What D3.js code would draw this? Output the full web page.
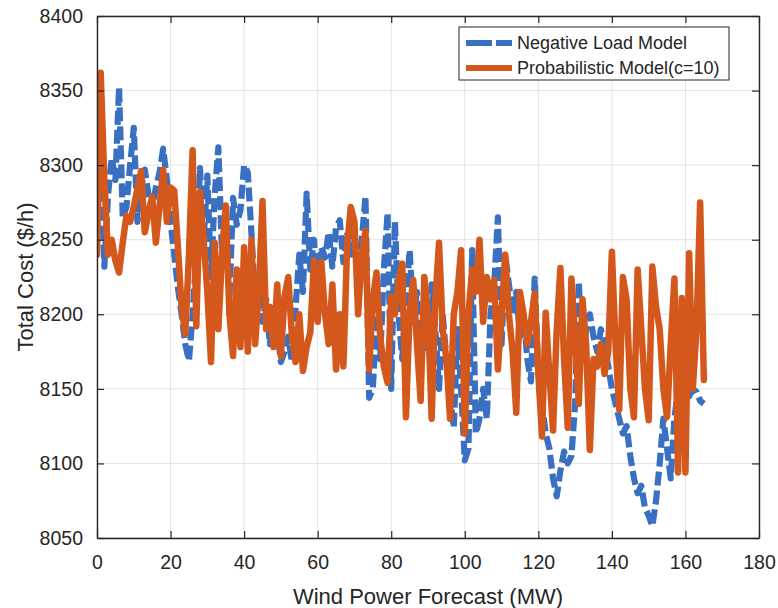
<!DOCTYPE html>
<html>
<head>
<meta charset="utf-8">
<script src="https://cdn.jsdelivr.net/npm/d3@7"></script>
<style>
    body { margin: 0; background: #fff; }
    #chart { display: block; }
    .axis text { font-family: "Liberation Sans", Arial, sans-serif; fill: #262626; }
    .label { font-family: "Liberation Sans", Arial, sans-serif; fill: #262626; }
</style>
</head>
<body>
<svg id="chart"></svg>
<script>
// wind power forecast (MW), one point per MW
var windForecast = [
    0, 1, 2, 3, 4, 5, 6, 7, 8, 9, 10, 11, 12, 13, 14, 15, 16, 17, 18, 19,
    20, 21, 22, 23, 24, 25, 26, 27, 28, 29, 30, 31, 32, 33, 34, 35, 36, 37, 38, 39,
    40, 41, 42, 43, 44, 45, 46, 47, 48, 49, 50, 51, 52, 53, 54, 55, 56, 57, 58, 59,
    60, 61, 62, 63, 64, 65, 66, 67, 68, 69, 70, 71, 72, 73, 74, 75, 76, 77, 78, 79,
    80, 81, 82, 83, 84, 85, 86, 87, 88, 89, 90, 91, 92, 93, 94, 95, 96, 97, 98, 99,
    100, 101, 102, 103, 104, 105, 106, 107, 108, 109, 110, 111, 112, 113, 114, 115, 116, 117, 118, 119,
    120, 121, 122, 123, 124, 125, 126, 127, 128, 129, 130, 131, 132, 133, 134, 135, 136, 137, 138, 139,
    140, 141, 142, 143, 144, 145, 146, 147, 148, 149, 150, 151, 152, 153, 154, 155, 156, 157, 158, 159,
    160, 161, 162, 163, 164, 165
];

// total cost ($/h), negative load model
var negativeLoad = [
    8290, 8300, 8232, 8280, 8305, 8290, 8352, 8265, 8272, 8300,
    8325, 8262, 8285, 8297, 8280, 8270, 8285, 8295, 8311, 8290,
    8262, 8240, 8218, 8200, 8180, 8169, 8200, 8240, 8298, 8250,
    8293, 8225, 8280, 8312, 8240, 8268, 8210, 8278, 8260, 8270,
    8300, 8295, 8254, 8210, 8225, 8195, 8210, 8180, 8200, 8190,
    8168, 8175, 8185, 8168, 8205, 8240, 8215, 8281, 8230, 8250,
    8205, 8245, 8238, 8255, 8232, 8258, 8263, 8235, 8255, 8240,
    8258, 8210, 8250, 8279, 8144, 8150, 8200, 8170, 8230, 8268,
    8150, 8262, 8200, 8170, 8210, 8243, 8200, 8215, 8160, 8200,
    8175, 8220, 8190, 8150, 8200, 8170, 8145, 8124, 8190, 8150,
    8102, 8110, 8243, 8120, 8130, 8150, 8130, 8200, 8220, 8265,
    8180, 8240, 8220, 8200, 8215, 8185, 8200, 8170, 8155, 8224,
    8160, 8140, 8120, 8110, 8090, 8078, 8095, 8108, 8100, 8105,
    8140, 8222, 8170, 8190, 8200, 8185, 8175, 8190, 8180, 8165,
    8150, 8140, 8130, 8120, 8125, 8105, 8090, 8080, 8085, 8070,
    8065, 8058, 8075, 8100, 8130, 8110, 8090, 8130, 8150, 8170,
    8160, 8145, 8150, 8148, 8142, 8140
];

// total cost ($/h), probabilistic model c=10
var probabilistic = [
    8240, 8362, 8290, 8240, 8250, 8236, 8228, 8248, 8266, 8262,
    8272, 8284, 8296, 8255, 8268, 8279, 8248, 8272, 8297, 8262,
    8285, 8283, 8245, 8205, 8187, 8240, 8310, 8192, 8282, 8250,
    8215, 8168, 8248, 8190, 8240, 8273, 8200, 8172, 8230, 8178,
    8245, 8175, 8250, 8180, 8215, 8276, 8190, 8205, 8178, 8220,
    8172, 8212, 8225, 8185, 8168, 8200, 8162, 8178, 8188, 8236,
    8195, 8235, 8200, 8180, 8220, 8163, 8200, 8165, 8245, 8272,
    8262, 8200, 8240, 8256, 8163, 8210, 8228, 8185, 8165, 8154,
    8212, 8200, 8222, 8234, 8131, 8200, 8223, 8180, 8142, 8225,
    8200, 8130, 8210, 8248, 8190, 8170, 8130, 8200, 8215, 8243,
    8120, 8200, 8230, 8215, 8250, 8195, 8225, 8210, 8223, 8163,
    8200, 8240, 8200, 8175, 8134, 8215, 8200, 8180, 8195, 8214,
    8160, 8118, 8201, 8160, 8122, 8190, 8231, 8170, 8124, 8224,
    8185, 8140, 8210, 8180, 8109, 8170, 8165, 8180, 8160, 8175,
    8242, 8180, 8136, 8225, 8210, 8150, 8131, 8230, 8190, 8150,
    8129, 8232, 8205, 8190, 8150, 8131, 8180, 8224, 8094, 8211,
    8094, 8241, 8150, 8190, 8275, 8156
];

var xTicks = [0, 20, 40, 60, 80, 100, 120, 140, 160, 180];
var yTicks = [8050, 8100, 8150, 8200, 8250, 8300, 8350, 8400];

var seriesNames = ["Negative Load Model", "Probabilistic Model(c=10)"];
var seriesColors = ["#3a70c2", "#d4581c"];

var outerWidth = 778,
    outerHeight = 608,
    margin = { top: 16, right: 19, bottom: 70, left: 97 },
    width = outerWidth - margin.left - margin.right,
    height = outerHeight - margin.top - margin.bottom;

var x = d3.scaleLinear().domain([0, 180]).range([0, width]);
var y = d3.scaleLinear().domain([8050, 8400]).range([height, 0]);

var svg = d3
    .select("#chart")
    .attr("width", outerWidth)
    .attr("height", outerHeight);

var g = svg
    .append("g")
    .attr("transform", "translate(" + margin.left + "," + margin.top + ")");

g.append("defs")
    .append("clipPath")
    .attr("id", "plot-clip")
    .append("rect")
    .attr("width", width)
    .attr("height", height);

// grid
g.append("g")
    .attr("class", "grid")
    .selectAll("line.vx")
    .data(xTicks)
    .enter()
    .append("line")
    .attr("x1", function (d) { return x(d); })
    .attr("x2", function (d) { return x(d); })
    .attr("y1", 0)
    .attr("y2", height)
    .style("stroke", "#e3e3e3")
    .style("stroke-width", 1);

g.select(".grid")
    .selectAll("line.hy")
    .data(yTicks)
    .enter()
    .append("line")
    .attr("x1", 0)
    .attr("x2", width)
    .attr("y1", function (d) { return y(d); })
    .attr("y2", function (d) { return y(d); })
    .style("stroke", "#e3e3e3")
    .style("stroke-width", 1);

// lines
var line = function (values) {
    return d3
        .line()
        .x(function (d, i) { return x(windForecast[i]); })
        .y(function (d) { return y(d); })(values);
};

var plot = g.append("g").attr("clip-path", "url(#plot-clip)");

plot.append("path")
    .attr("d", line(negativeLoad))
    .style("fill", "none")
    .style("stroke", seriesColors[0])
    .style("stroke-width", 6.2)
    .style("stroke-dasharray", "14,5")
    .style("stroke-linejoin", "round");

plot.append("path")
    .attr("d", line(probabilistic))
    .style("fill", "none")
    .style("stroke", seriesColors[1])
    .style("stroke-width", 6.5)
    .style("stroke-linejoin", "round")
    .style("stroke-linecap", "round");

// axes (matlab style: ticks inside, box on)
var xAxis = d3.axisBottom(x).tickValues(xTicks).tickSizeInner(-7).tickSizeOuter(0).tickPadding(17).tickFormat(d3.format("d"));
var yAxis = d3.axisLeft(y).tickValues(yTicks).tickSizeInner(-7).tickSizeOuter(0).tickPadding(14).tickFormat(d3.format("d"));
var xTop = d3.axisTop(x).tickValues(xTicks).tickSizeInner(-7).tickSizeOuter(0).tickFormat("");
var yRight = d3.axisRight(y).tickValues(yTicks).tickSizeInner(-7).tickSizeOuter(0).tickFormat("");

g.append("g")
    .attr("class", "x axis")
    .attr("transform", "translate(0," + height + ")")
    .call(xAxis);

g.append("g")
    .attr("class", "y axis")
    .call(yAxis);

g.append("g").attr("class", "axis").call(xTop);
g.append("g").attr("class", "axis").attr("transform", "translate(" + width + ",0)").call(yRight);

g.selectAll(".axis path").style("stroke", "#262626").style("stroke-width", 1.4);
g.selectAll(".axis line").style("stroke", "#262626").style("stroke-width", 1.2);
g.selectAll(".axis text").style("font-size", "19.5px");
g.selectAll(".x.axis text").attr("dy", "0.71em");

// axis labels
g.append("text")
    .attr("class", "label")
    .attr("x", width / 2)
    .attr("y", height + 66)
    .style("text-anchor", "middle")
    .style("font-size", "22px")
    .text("Wind Power Forecast (MW)");

g.append("text")
    .attr("class", "label")
    .attr("transform", "translate(-64," + height / 2 + ") rotate(-90)")
    .style("text-anchor", "middle")
    .style("font-size", "22px")
    .text("Total Cost ($/h)");

// legend
var legend = g.append("g").attr("transform", "translate(" + (459 - margin.left) + "," + (27 - margin.top) + ")");

legend.append("rect")
    .attr("width", 270)
    .attr("height", 53)
    .style("fill", "#fff")
    .style("stroke", "#262626")
    .style("stroke-width", 1);

legend.selectAll(".swatch")
    .data(seriesNames)
    .enter()
    .append("line")
    .attr("class", "swatch")
    .attr("x1", 7)
    .attr("x2", 53)
    .attr("y1", function (d, i) { return 16 + i * 25; })
    .attr("y2", function (d, i) { return 16 + i * 25; })
    .style("stroke", function (d, i) { return seriesColors[i]; })
    .style("stroke-width", 6)
    .style("stroke-dasharray", function (d, i) { return i === 0 ? "26,4" : null; });

legend.selectAll(".entry")
    .data(seriesNames)
    .enter()
    .append("text")
    .attr("class", "label entry")
    .attr("x", 58)
    .attr("y", function (d, i) { return 16 + i * 25; })
    .attr("dy", "0.35em")
    .style("font-size", "18px")
    .text(function (d) { return d; });
</script>
</body>
</html>
